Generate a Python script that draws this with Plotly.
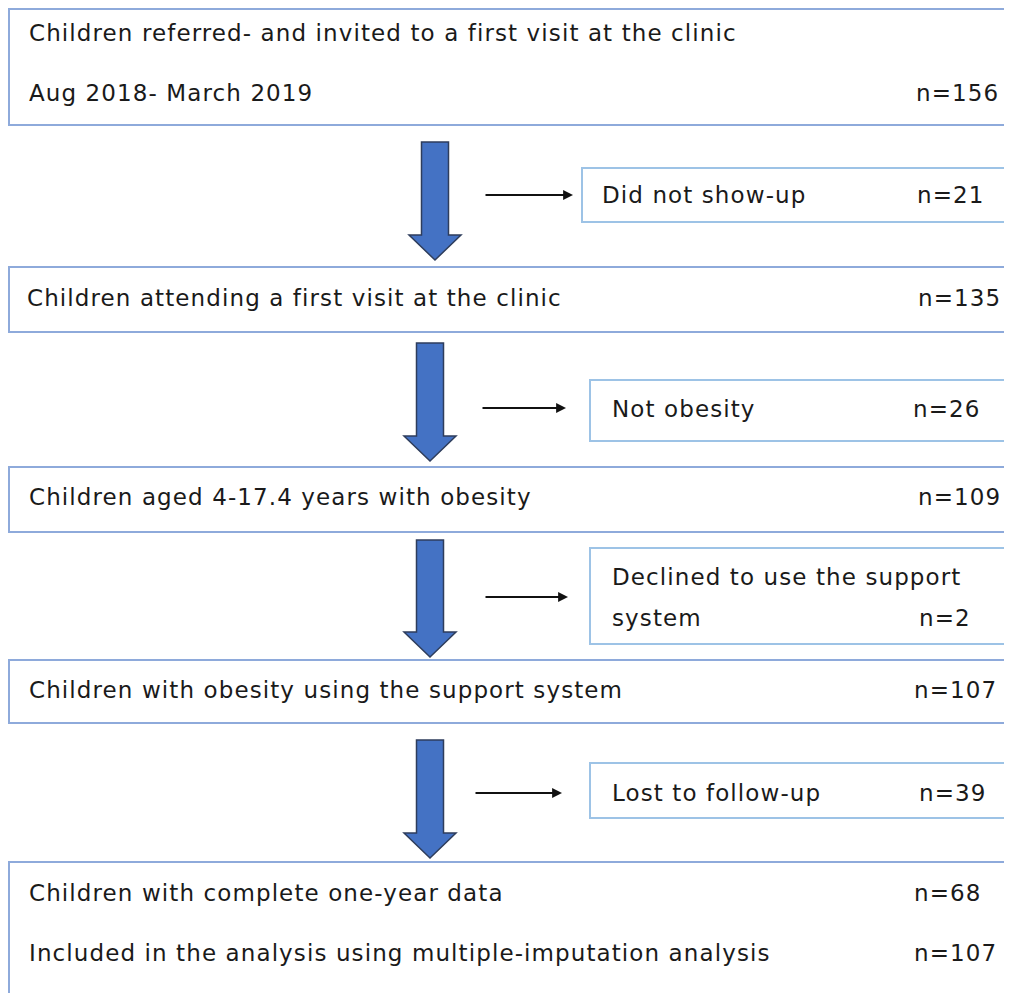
import plotly.graph_objects as go

# ---- data ----
main_labels = [
    ["Children referred- and invited to a first visit at the clinic", "Aug 2018- March 2019"],
    ["Children attending a first visit at the clinic"],
    ["Children aged 4-17.4 years with obesity"],
    ["Children with obesity using the support system"],
    ["Children with complete one-year data", "Included in the analysis using multiple-imputation analysis"],
]
main_counts = [[None, 156], [135], [109], [107], [68, 107]]
excl_labels = [["Did not show-up"], ["Not obesity"], ["Declined to use the support", "system"], ["Lost to follow-up"]]
excl_counts = [[21], [26], [None, 2], [39]]

# ---- layout geometry (page pixels) ----
W, H = 1012, 1001
PAD = 8  # default body margin of the html page
main_boxes = [(9, 9, 125), (9, 267, 332), (9, 467, 532), (9, 660, 723), (9, 862, 1020)]
main_text_y = [[33, 93], [298], [497], [690], [893, 953]]
main_text_x = [27, 25, 27, 27, 27]
main_n_x = [914, 916, 916, 912, 912]

side_boxes = [(582, 168, 222), (590, 380, 441), (590, 548, 644), (590, 763, 818)]
side_text_y = [[195], [409], [577, 618], [793]]
side_text_x = [600, 610, 610, 610]
side_n_x = [915, 911, 917, 917]
side_arrows = [(484, 573, 195), (481, 566, 408), (484, 568, 597), (474, 562, 793)]

down_arrows = [  # (cx, top, head_base, tip)
    (435, 142, 235, 260),
    (430, 343, 436, 461),
    (430, 540, 632, 657),
    (430, 740, 833, 858),
]

FONT = "DejaVu Sans"
FS = 23
SPACING = "1.1px"
TXT = "#1a1a1a"
MAIN_BORDER = "#8eaadb"
SIDE_BORDER = "#9dc3e6"

fig = go.Figure()
fig.add_trace(go.Scatter(x=[PAD, W], y=[PAD, H], mode="markers", marker=dict(opacity=0),
                         hoverinfo="skip", showlegend=False))

shapes = []
annotations = []

def add_text(x, y, s):
    annotations.append(dict(x=x, y=y, xref="x", yref="y",
                            text=f'<span style="letter-spacing:{SPACING}">{s}</span>',
                            showarrow=False, xanchor="left", yanchor="middle",
                            font=dict(family=FONT, size=FS, color=TXT)))

for i, (x0, y0, y1) in enumerate(main_boxes):
    shapes.append(dict(type="rect", xref="x", yref="y", x0=x0, x1=W + 20, y0=y0, y1=y1,
                       line=dict(color=MAIN_BORDER, width=2), fillcolor="white", layer="below"))
    for lbl, ty in zip(main_labels[i], main_text_y[i]):
        add_text(main_text_x[i], ty, lbl)
    for n, ty in zip(main_counts[i], main_text_y[i]):
        if n is not None:
            add_text(main_n_x[i], ty, f"n={n}")

for i, (x0, y0, y1) in enumerate(side_boxes):
    shapes.append(dict(type="rect", xref="x", yref="y", x0=x0, x1=W + 20, y0=y0, y1=y1,
                       line=dict(color=SIDE_BORDER, width=2), fillcolor="white", layer="below"))
    for lbl, ty in zip(excl_labels[i], side_text_y[i]):
        add_text(side_text_x[i], ty, lbl)
    for n, ty in zip(excl_counts[i], side_text_y[i]):
        if n is not None:
            add_text(side_n_x[i], ty, f"n={n}")

for (xa, xb, y) in side_arrows:
    annotations.append(dict(x=xb, y=y, ax=xa, ay=y, xref="x", yref="y", axref="x", ayref="y",
                            text="", showarrow=True, arrowhead=2, arrowsize=1.1, arrowwidth=1.8,
                            arrowcolor="#111111"))

for (cx, top, hb, tip) in down_arrows:
    sw, hw = 13.5, 26
    path = (f"M {cx-sw},{top} L {cx+sw},{top} L {cx+sw},{hb} L {cx+hw},{hb} "
            f"L {cx},{tip} L {cx-hw},{hb} L {cx-sw},{hb} Z")
    shapes.append(dict(type="path", xref="x", yref="y", path=path,
                       fillcolor="#4472c4", line=dict(color="#2e3d5c", width=1.5)))

fig.update_layout(
    width=W - PAD, height=H - 2 * PAD,
    margin=dict(l=0, r=0, t=0, b=0),
    paper_bgcolor="white", plot_bgcolor="white",
    xaxis=dict(range=[PAD, W], visible=False, fixedrange=True),
    yaxis=dict(range=[H - PAD, PAD], visible=False, fixedrange=True),
    shapes=shapes, annotations=annotations,
    showlegend=False,
)

fig.write_html("out.html")
